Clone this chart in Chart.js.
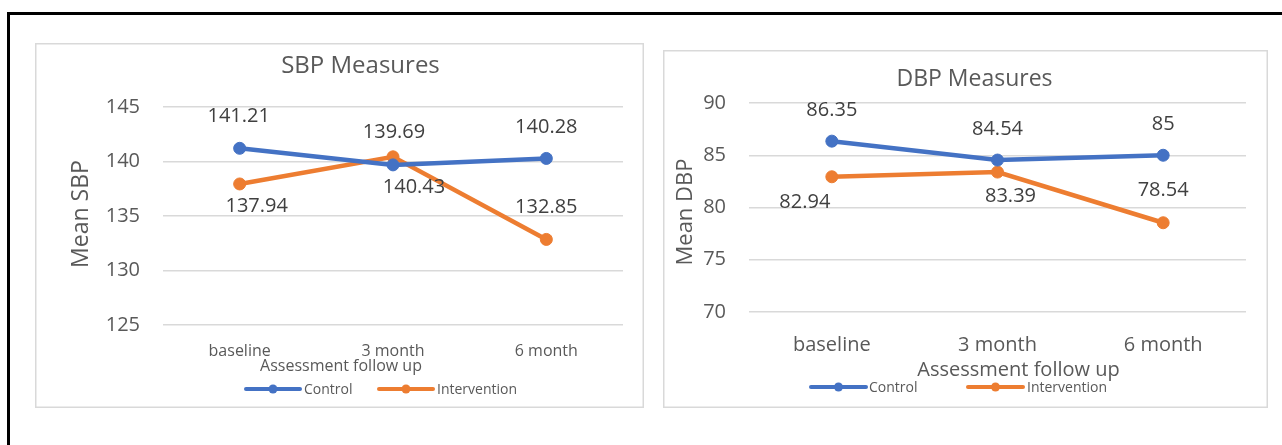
<!DOCTYPE html>
<html>
<head>
<meta charset="utf-8">
<script src="https://cdn.jsdelivr.net/npm/chart.js@4.4.1/dist/chart.umd.min.js"></script>
<style>
  body { margin: 0; background: #fff; width: 1282px; height: 445px; overflow: hidden; position: relative; }
  .frame { position: absolute; left: 7px; top: 12px; width: 1400px; height: 600px; border: 3px solid #000; box-sizing: border-box; }
  canvas { position: absolute; }
</style>
</head>
<body>
<div class="frame"></div>
<canvas id="sbpChart" width="609" height="365" style="left:35px;top:43px"></canvas>
<canvas id="dbpChart" width="605" height="358" style="left:663px;top:50px"></canvas>
<script>
// data
const categories = ["baseline", "3 month", "6 month"];
const seriesNames = ["Control", "Intervention"];
const sbpControl = [141.21, 139.69, 140.28];
const sbpIntervention = [137.94, 140.43, 132.85];
const dbpControl = [86.35, 84.54, 85];
const dbpIntervention = [82.94, 83.39, 78.54];
const sbpTickValues = [125, 130, 135, 140, 145];
const dbpTickValues = [70, 75, 80, 85, 90];

const seriesColors = ["#4472C4", "#ED7D31"];
const textColor = "#595959";
const fontFamily = "'Open Sans'";

Chart.defaults.font.family = fontFamily;
Chart.defaults.color = textColor;

// label offsets from each point (Excel placed them by hand, more or less)
const sbpLabelOffsets = [
	[[-1, -32], [1, -33], [0, -31]],
	[[17, 22], [21, 30], [0, -32]]
];
const dbpLabelOffsets = [
	[[0, -31], [0, -31], [0, -31]],
	[[-27, 26], [13, 24], [0, -32]]
];

const valueLabels = {
	id: "valueLabels",
	afterDatasetsDraw(chart, args, opts) {
		const ctx = chart.ctx;
		ctx.save();
		ctx.font = "20px " + fontFamily;
		ctx.fillStyle = "#404040";
		ctx.textAlign = "center";
		ctx.textBaseline = "middle";
		chart.data.datasets.forEach(function (ds, i) {
			chart.getDatasetMeta(i).data.forEach(function (pt, j) {
				const off = opts.offsets[i][j];
				ctx.fillText(String(ds.data[j]), pt.x + off[0], pt.y + off[1]);
			});
		});
		ctx.restore();
	}
};

// panel border, titles and the legend
const decorations = {
	id: "decorations",
	beforeDraw(chart) {
		const ctx = chart.ctx;
		ctx.save();
		ctx.fillStyle = "#fff";
		ctx.fillRect(0, 0, chart.width, chart.height);
		ctx.strokeStyle = "#D9D9D9";
		ctx.lineWidth = 1.5;
		ctx.strokeRect(0.75, 0.75, chart.width - 1.5, chart.height - 1.5);
		ctx.restore();
	},
	afterDraw(chart, args, opts) {
		const ctx = chart.ctx;
		ctx.save();
		ctx.fillStyle = textColor;
		ctx.textBaseline = "alphabetic";
		ctx.textAlign = "center";

		ctx.font = opts.title.size + "px " + fontFamily;
		ctx.fillText(opts.title.text, opts.title.x, opts.title.y);

		ctx.font = opts.xTitle.size + "px " + fontFamily;
		ctx.fillText(opts.xTitle.text, opts.xTitle.x, opts.xTitle.y);

		ctx.save();
		ctx.translate(opts.yTitle.x, opts.yTitle.y);
		ctx.rotate(-Math.PI / 2);
		ctx.font = opts.yTitle.size + "px " + fontFamily;
		ctx.fillText(opts.yTitle.text, 0, 0);
		ctx.restore();

		// legend: line with a marker, then the name
		ctx.textAlign = "left";
		ctx.textBaseline = "middle";
		ctx.font = "14px " + fontFamily;
		opts.legend.items.forEach(function (it, i) {
			const y = opts.legend.y;
			ctx.strokeStyle = seriesColors[i];
			ctx.lineWidth = 4;
			ctx.lineCap = "round";
			ctx.beginPath();
			ctx.moveTo(it.x0, y);
			ctx.lineTo(it.x1, y);
			ctx.stroke();
			ctx.fillStyle = seriesColors[i];
			ctx.beginPath();
			ctx.arc((it.x0 + it.x1) / 2, y, 4.5, 0, Math.PI * 2);
			ctx.fill();
			ctx.fillStyle = textColor;
			ctx.fillText(seriesNames[i], it.tx, y + 1);
		});
		ctx.restore();
	}
};

function makeChart(id, series, tickValues, layout) {
	const ctx = document.getElementById(id).getContext("2d");
	return new Chart(ctx, {
		type: "line",
		data: {
			labels: categories,
			datasets: series.map(function (values, i) {
				return {
					label: seriesNames[i],
					data: values,
					borderColor: seriesColors[i],
					backgroundColor: seriesColors[i],
					borderWidth: 4.5,
					pointRadius: 6,
					pointBorderWidth: 1,
					pointBackgroundColor: seriesColors[i],
					pointBorderColor: seriesColors[i],
					tension: 0
				};
			})
		},
		options: {
			responsive: false,
			animation: false,
			events: [],
			layout: {
				padding: { top: layout.padTop, right: layout.padRight, left: 0, bottom: 0 }
			},
			scales: {
				x: {
					offset: true,
					grid: { display: false },
					border: { display: false },
					ticks: {
						padding: layout.xTickPad,
						font: { size: layout.xTickSize },
						color: textColor,
						maxRotation: 0
					},
					afterFit: function (scale) { scale.height = layout.xHeight; }
				},
				y: {
					min: tickValues[0],
					max: tickValues[tickValues.length - 1],
					grid: { color: "#D9D9D9", lineWidth: 1.5, drawTicks: false },
					border: { display: false },
					ticks: {
						stepSize: tickValues[1] - tickValues[0],
						padding: 23,
						font: { size: 20 },
						color: textColor
					},
					afterFit: function (scale) { scale.width = layout.yWidth; }
				}
			},
			plugins: {
				legend: { display: false },
				tooltip: { enabled: false },
				valueLabels: { offsets: layout.labelOffsets },
				decorations: layout.deco
			}
		},
		plugins: [decorations, valueLabels]
	});
}

makeChart("sbpChart", [sbpControl, sbpIntervention], sbpTickValues, {
	padTop: 64, padRight: 21, yWidth: 128, xHeight: 83,
	xTickPad: 9, xTickSize: 16,
	labelOffsets: sbpLabelOffsets,
	deco: {
		title: { text: "SBP Measures", x: 325.5, y: 29.5, size: 24 },
		xTitle: { text: "Assessment follow up", x: 306, y: 328, size: 16 },
		yTitle: { text: "Mean SBP", x: 53, y: 171, size: 23 },
		legend: { y: 346, items: [{ x0: 211, x1: 265, tx: 269 }, { x0: 344, x1: 398, tx: 402 }] }
	}
});

makeChart("dbpChart", [dbpControl, dbpIntervention], dbpTickValues, {
	padTop: 53, padRight: 22, yWidth: 86, xHeight: 96,
	xTickPad: 13, xTickSize: 20,
	labelOffsets: dbpLabelOffsets,
	deco: {
		title: { text: "DBP Measures", x: 311.5, y: 35.7, size: 23 },
		xTitle: { text: "Assessment follow up", x: 355.5, y: 326, size: 20 },
		yTitle: { text: "Mean DBP", x: 29, y: 162, size: 22 },
		legend: { y: 337, items: [{ x0: 148, x1: 203, tx: 206 }, { x0: 305, x1: 360, tx: 364 }] }
	}
});
</script>
</body>
</html>
